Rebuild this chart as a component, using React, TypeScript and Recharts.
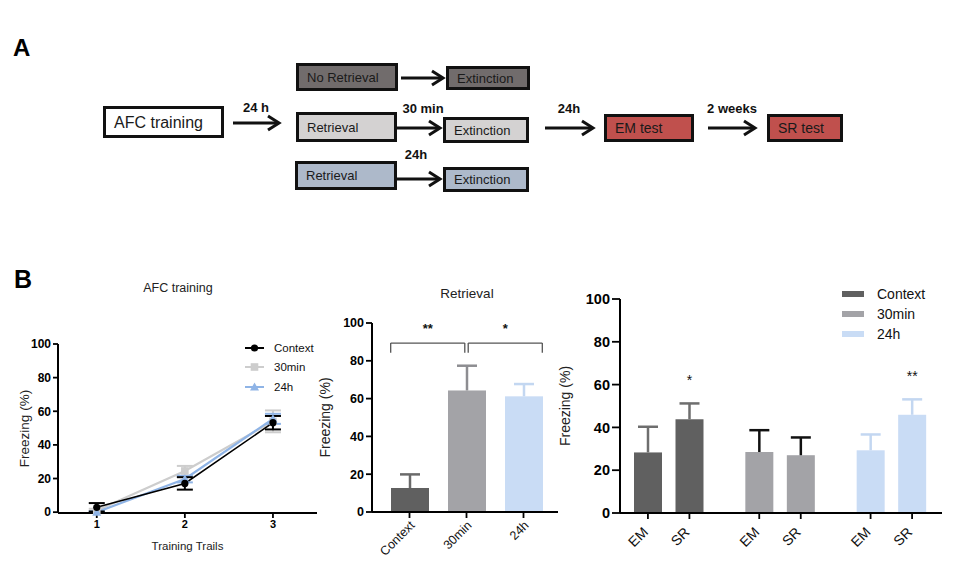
import React from "react";
import {
  LineChart,
  Line,
  BarChart,
  Bar,
  Cell,
  XAxis,
  YAxis,
  ErrorBar,
  ReferenceLine,
  ReferenceDot,
  LabelList,
  Legend,
} from "recharts";

const FONT = '"Liberation Sans", Arial, Helvetica, sans-serif';

// ─── Data: AFC training (line chart) ─────────────────────────────────────────
const afcTrials = [1, 2, 3];
const afcContext = [2.9, 17.1, 53.2];
const afcContextErr = [2.5, 3.7, 4.0];
const afc30min = [1.0, 24.5, 54.0];
const afc30minErr = [1.0, 3.0, 6.5];
const afc24h = [0.0, 19.7, 55.5];
const afc24hErr = [0.5, 2.0, 3.0];

// ─── Data: Retrieval ─────────────────────────────────────────────────────────
const groups = ["Context", "30min", "24h"];
const retrievalMean = [12.7, 64.3, 61.2];
const retrievalErr = [7.2, 13.1, 6.5];
// significance brackets, in bar-index units
const retrievalSig = [
  { from: -0.33, to: 0.97, mark: "**" },
  { from: 1.03, to: 2.33, mark: "*" },
];

// ─── Data: EM / SR tests ─────────────────────────────────────────────────────
const phases = ["EM", "SR"];
const emMean = [28.3, 28.5, 29.3];
const emErr = [12.0, 10.2, 7.4];
const srMean = [43.8, 27.0, 45.9];
const srErr = [7.4, 8.3, 7.2];
const srSig = ["*", "", "**"];

const yTicks = [0, 20, 40, 60, 80, 100];

// styles
const groupFill = ["#606060", "#a3a3a7", "#c9dcf5"];
const retrievalErrColor = ["#6a6a6a", "#8d8d91", "#c3d7f1"];
const testErrColor = ["#6e6e6e", "#111111", "#c3d7f1"];
const afcSeries = [
  { key: "context", name: "Context", color: "#000000", shape: "circle" },
  { key: "min30", name: "30min", color: "#cdcdcd", shape: "square" },
  { key: "h24", name: "24h", color: "#8fb4e6", shape: "triangle" },
];

const afcData = afcTrials.map((t, i) => ({
  trial: t,
  context: afcContext[i],
  contextErr: afcContextErr[i],
  min30: afc30min[i],
  min30Err: afc30minErr[i],
  h24: afc24h[i],
  h24Err: afc24hErr[i],
}));

const retrievalData = groups.map((g, i) => ({
  xi: i,
  group: g,
  mean: retrievalMean[i],
  err: retrievalErr[i],
}));

const testData = groups.map((g, i) => ({
  group: g,
  em: emMean[i],
  emErr: emErr[i],
  sr: srMean[i],
  srErr: srErr[i],
}));

// ─── Panel A helpers ─────────────────────────────────────────────────────────
function Arrow({ x1, x2, y }: { x1: number; x2: number; y: number }) {
  return (
    <g stroke="#111" strokeWidth={3} fill="none">
      <line x1={x1} y1={y} x2={x2 - 2} y2={y} />
      <polyline points={`${x2 - 11},${y - 7} ${x2},${y} ${x2 - 11},${y + 7}`} />
    </g>
  );
}

function Box({
  x1, y1, x2, y2, fill, label, fontSize = 13,
}: { x1: number; y1: number; x2: number; y2: number; fill: string; label: string; fontSize?: number }) {
  return (
    <g>
      <rect x={x1 + 1.5} y={y1 + 1.5} width={x2 - x1 - 3} height={y2 - y1 - 3} fill={fill} stroke="#111" strokeWidth={3} />
      <text x={x1 + 11} y={(y1 + y2) / 2} dominantBaseline="central" fontSize={fontSize} fill="#1a1a1a">
        {label}
      </text>
    </g>
  );
}

function Note({ x, y, text }: { x: number; y: number; text: string }) {
  return (
    <text x={x} y={y} textAnchor="middle" dominantBaseline="central" fontSize={13} fontWeight={700} fill="#111">
      {text}
    </text>
  );
}

function PanelA() {
  return (
    <svg width={955} height={230} style={{ position: "absolute", left: 0, top: 0, fontFamily: FONT }}>
      <text x={13} y={56} fontSize={24} fontWeight={700}>A</text>
      <Box x1={103} y1={106} x2={224} y2={138} fill="#fff" label="AFC training" fontSize={16} />
      <Arrow x1={233} x2={279} y={123} />
      <Note x={256} y={107} text="24 h" />

      <Box x1={296} y1={63} x2={398} y2={91} fill="#716c6c" label="No Retrieval" />
      <Arrow x1={401} x2={443} y={78} />
      <Box x1={446} y1={66} x2={530} y2={90} fill="#716c6c" label="Extinction" />

      <Box x1={296} y1={112} x2={397} y2={142} fill="#d4d2d2" label="Retrieval" />
      <Note x={423} y={108} text="30 min" />
      <Arrow x1={397} x2={440} y={128} />
      <Box x1={443} y1={117} x2={529} y2={143} fill="#d4d2d2" label="Extinction" />

      <Box x1={295} y1={161} x2={397} y2={190} fill="#adb9ca" label="Retrieval" />
      <Note x={416} y={154} text="24h" />
      <Arrow x1={397} x2={440} y={179} />
      <Box x1={443} y1={167} x2={529} y2={192} fill="#adb9ca" label="Extinction" />

      <Arrow x1={545} x2={593} y={128} />
      <Note x={569} y={108} text="24h" />
      <Box x1={604} y1={114} x2={694} y2={142} fill="#c0504d" label="EM test" fontSize={14} />
      <Arrow x1={708} x2={755} y={128} />
      <Note x={732} y={108} text="2 weeks" />
      <Box x1={767} y1={114} x2={843} y2={142} fill="#c0504d" label="SR test" fontSize={14} />
    </svg>
  );
}

// ─── Chart helpers ───────────────────────────────────────────────────────────
const YLabel = (props: any) => {
  const { viewBox, value, dx, fontSize } = props;
  if (!viewBox) return null;
  const x = viewBox.x + dx;
  const y = viewBox.y + viewBox.height / 2;
  return (
    <text x={x} y={y} transform={`rotate(-90 ${x} ${y})`} textAnchor="middle" dominantBaseline="central"
      fontSize={fontSize} fill="#222" fontFamily={FONT}>
      {value}
    </text>
  );
};

function Marker({ shape, cx, cy, color }: { shape: string; cx: number; cy: number; color: string }) {
  if (shape === "circle") return <circle cx={cx} cy={cy} r={3.6} fill={color} />;
  if (shape === "square") return <rect x={cx - 3.8} y={cy - 3.8} width={7.6} height={7.6} fill={color} />;
  return <polygon points={`${cx},${cy - 4.5} ${cx + 4.5},${cy + 3.5} ${cx - 4.5},${cy + 3.5}`} fill={color} />;
}

const SeriesDot = (props: any) => {
  const { cx, cy, shape, color } = props;
  if (cx == null || cy == null) return null;
  return <Marker shape={shape} cx={cx} cy={cy} color={color} />;
};

// bar + "above only" SD bar (GraphPad style), error length scaled with the bar's own px/unit
const BarWithSD = (props: any) => {
  const { x, y, width, height, fill, payload, index, meanKey, errKey, errColors } = props;
  if (!height) return null;
  const pxPerUnit = height / payload[meanKey];
  const top = y - payload[errKey] * pxPerUnit;
  const cx = x + width / 2;
  const color = errColors[index];
  return (
    <g>
      <rect x={x} y={y} width={width} height={height} fill={fill} />
      <line x1={cx} x2={cx} y1={y} y2={top} stroke={color} strokeWidth={2.5} />
      <line x1={cx - 10} x2={cx + 10} y1={top} y2={top} stroke={color} strokeWidth={2.5} />
    </g>
  );
};

const AfcLegend = () => (
  <div style={{ fontFamily: FONT, fontSize: 11.5, color: "#111" }}>
    {afcSeries.map((s) => (
      <div key={s.name} style={{ display: "flex", alignItems: "center", height: 19.5 }}>
        <svg width={22} height={12}>
          <line x1={1} x2={20} y1={6} y2={6} stroke={s.color} strokeWidth={2} />
          <Marker shape={s.shape} cx={10.5} cy={6} color={s.color} />
        </svg>
        <span style={{ marginLeft: 8 }}>{s.name}</span>
      </div>
    ))}
  </div>
);

const TestLegend = () => (
  <div style={{ fontFamily: FONT, fontSize: 14, color: "#111" }}>
    {groups.map((g, i) => (
      <div key={g} style={{ display: "flex", alignItems: "center", height: 20 }}>
        <div style={{ width: 22, height: 6, background: groupFill[i] }} />
        <span style={{ marginLeft: 13 }}>{g}</span>
      </div>
    ))}
  </div>
);

const RotTick = (props: any) => {
  const { x, y, payload, fontSize, ax, ay } = props;
  const tx = x + ax;
  const ty = y + ay;
  return (
    <text x={tx} y={ty} transform={`rotate(-45 ${tx} ${ty})`} textAnchor="end" fontSize={fontSize}
      fill="#111" fontFamily={FONT}>
      {groups[payload.value]}
    </text>
  );
};

// bars in each group: 28px wide, 13.5px apart
const PAIR_HALF = 20.75;

const PairTick = (props: any) => {
  const { x, y } = props;
  return (
    <g>
      {phases.map((ph, k) => {
        const cx = x + (k === 0 ? -PAIR_HALF : PAIR_HALF);
        return (
          <g key={ph}>
            <line x1={cx} x2={cx} y1={y - 8} y2={y - 2} stroke="#000" strokeWidth={1.8} />
            <text x={cx + 1} y={y + 12} transform={`rotate(-45 ${cx + 1} ${y + 12})`} textAnchor="end"
              fontSize={14} fill="#111" fontFamily={FONT}>
              {ph}
            </text>
          </g>
        );
      })}
    </g>
  );
};

const StarLabel = (props: any) => {
  const { x, y, width, height, index } = props;
  const mark = srSig[index];
  if (!mark || !height) return null;
  const pxPerUnit = height / srMean[index];
  const errTop = y - srErr[index] * pxPerUnit;
  return (
    <text x={x + width / 2} y={errTop - 18} textAnchor="middle" fontSize={14} fill="#111" fontFamily={FONT}>
      {mark}
    </text>
  );
};

const axisLine = { stroke: "#000", strokeWidth: 2 };
const tickLine = { stroke: "#000", strokeWidth: 1.8 };
const BR_TOP = 89.4;
const BR_FOOT = 84.2;
const STAR_Y = 97;

export default function App() {
  return (
    <div style={{ position: "absolute", left: 0, top: 0, width: 955, height: 570, background: "#fff", fontFamily: FONT }}>
      <PanelA />

      <div style={{ position: "absolute", left: 14, top: 265, fontSize: 25, fontWeight: 700 }}>B</div>

      {/* ── AFC training ─────────────────────────────────────────────── */}
      <div style={{ position: "absolute", left: 100, top: 281, width: 156, textAlign: "center", fontSize: 12.5, color: "#222" }}>
        AFC training
      </div>
      <div style={{ position: "absolute", left: 0, top: 280 }}>
        <LineChart width={330} height={280} data={afcData} margin={{ top: 64, right: 13, bottom: 0, left: 0 }}>
          <XAxis
            dataKey="trial"
            type="number"
            domain={[0.56, 3.5]}
            ticks={afcTrials}
            allowDataOverflow
            height={47}
            axisLine={axisLine}
            tickLine={tickLine}
            tickSize={5}
            tick={{ fontSize: 11, fontWeight: 700, fill: "#000", fontFamily: FONT }}
            label={{ value: "Training Trails", position: "insideBottom", offset: 10, fontSize: 11.5, fill: "#222", fontFamily: FONT }}
          />
          <YAxis
            domain={[0, 100]}
            ticks={yTicks}
            width={58}
            axisLine={axisLine}
            tickLine={tickLine}
            tickSize={5}
            tick={{ fontSize: 12, fontWeight: 700, fill: "#000", fontFamily: FONT }}
            label={<YLabel value="Freezing (%)" dx={24} fontSize={13.5} />}
          />
          {[afcSeries[1], afcSeries[2], afcSeries[0]].map((s) => (
            <Line
              key={s.key}
              dataKey={s.key}
              stroke={s.color}
              strokeWidth={s.key === "context" ? 1.6 : 2.2}
              dot={<SeriesDot shape={s.shape} color={s.color} />}
              isAnimationActive={false}
            >
              <ErrorBar dataKey={s.key + "Err"} width={8} stroke={s.color} strokeWidth={2} direction="y" />
            </Line>
          ))}
          <Legend
            layout="vertical"
            align="center"
            verticalAlign="middle"
            wrapperStyle={{ left: 244, top: 58, width: 90 }}
            content={() => <AfcLegend />}
          />
        </LineChart>
      </div>

      {/* ── Retrieval ────────────────────────────────────────────────── */}
      <div style={{ position: "absolute", left: 417, top: 286, width: 100, textAlign: "center", fontSize: 13.5, color: "#222" }}>
        Retrieval
      </div>
      <div style={{ position: "absolute", left: 300, top: 280 }}>
        <BarChart width={270} height={280} data={retrievalData} margin={{ top: 43, right: 12, bottom: 0, left: 0 }}>
          <XAxis
            dataKey="xi"
            type="number"
            domain={[-0.5, 2.5]}
            ticks={[0, 1, 2]}
            allowDataOverflow
            padding={{ left: 9, right: 6 }}
            height={48}
            axisLine={axisLine}
            tickLine={tickLine}
            tickSize={6}
            tickMargin={2}
            tick={<RotTick fontSize={12.5} ax={6} ay={6} />}
            interval={0}
          />
          <YAxis
            domain={[0, 100]}
            ticks={yTicks}
            width={72}
            axisLine={axisLine}
            tickLine={tickLine}
            tickSize={6}
            tick={{ fontSize: 12.5, fontWeight: 700, fill: "#000", fontFamily: FONT }}
            label={<YLabel value="Freezing (%)" dx={25} fontSize={14} />}
          />
          <Bar
            dataKey="mean"
            barSize={38}
            isAnimationActive={false}
            shape={<BarWithSD meanKey="mean" errKey="err" errColors={retrievalErrColor} />}
          >
            {retrievalData.map((d, i) => (
              <Cell key={d.group} fill={groupFill[i]} />
            ))}
          </Bar>
          {retrievalSig.map((b) => (
            <React.Fragment key={b.mark}>
              <ReferenceLine ifOverflow="visible" segment={[{ x: b.from, y: BR_TOP }, { x: b.to, y: BR_TOP }]} stroke="#555" strokeWidth={1.3} />
              <ReferenceLine ifOverflow="visible" segment={[{ x: b.from, y: BR_TOP }, { x: b.from, y: BR_FOOT }]} stroke="#555" strokeWidth={1.3} />
              <ReferenceLine ifOverflow="visible" segment={[{ x: b.to, y: BR_TOP }, { x: b.to, y: BR_FOOT }]} stroke="#555" strokeWidth={1.3} />
              <ReferenceDot
                ifOverflow="visible"
                x={(b.from + b.to) / 2}
                y={STAR_Y}
                r={0}
                fill="none"
                stroke="none"
                label={{ value: b.mark, position: "center", fontSize: 13, fontWeight: 700, fill: "#111" }}
              />
            </React.Fragment>
          ))}
        </BarChart>
      </div>

      {/* ── EM / SR tests ────────────────────────────────────────────── */}
      <div style={{ position: "absolute", left: 550, top: 280 }}>
        <BarChart
          width={400}
          height={280}
          data={testData}
          margin={{ top: 19, right: 8, bottom: 0, left: 0 }}
          barSize={28}
          barGap={13.5}
        >
          <XAxis
            dataKey="group"
            padding={{ left: -7, right: -5 }}
            height={47}
            axisLine={axisLine}
            tickLine={false}
            tickSize={6}
            tickMargin={2}
            tick={<PairTick />}
            interval={0}
          />
          <YAxis
            domain={[0, 100]}
            ticks={yTicks}
            width={70}
            axisLine={axisLine}
            tickLine={tickLine}
            tickSize={8}
            tick={{ fontSize: 14.5, fontWeight: 700, fill: "#000", fontFamily: FONT }}
            label={<YLabel value="Freezing (%)" dx={15} fontSize={14} />}
          />
          <Bar
            dataKey="em"
            isAnimationActive={false}
            shape={<BarWithSD meanKey="em" errKey="emErr" errColors={testErrColor} />}
          >
            {testData.map((d, i) => (
              <Cell key={d.group} fill={groupFill[i]} />
            ))}
          </Bar>
          <Bar
            dataKey="sr"
            isAnimationActive={false}
            shape={<BarWithSD meanKey="sr" errKey="srErr" errColors={testErrColor} />}
          >
            {testData.map((d, i) => (
              <Cell key={d.group} fill={groupFill[i]} />
            ))}
            <LabelList dataKey="sr" content={<StarLabel />} />
          </Bar>
          <Legend
            layout="vertical"
            align="center"
            verticalAlign="middle"
            wrapperStyle={{ left: 292, top: 4, width: 110 }}
            content={() => <TestLegend />}
          />
        </BarChart>
      </div>
    </div>
  );
}
